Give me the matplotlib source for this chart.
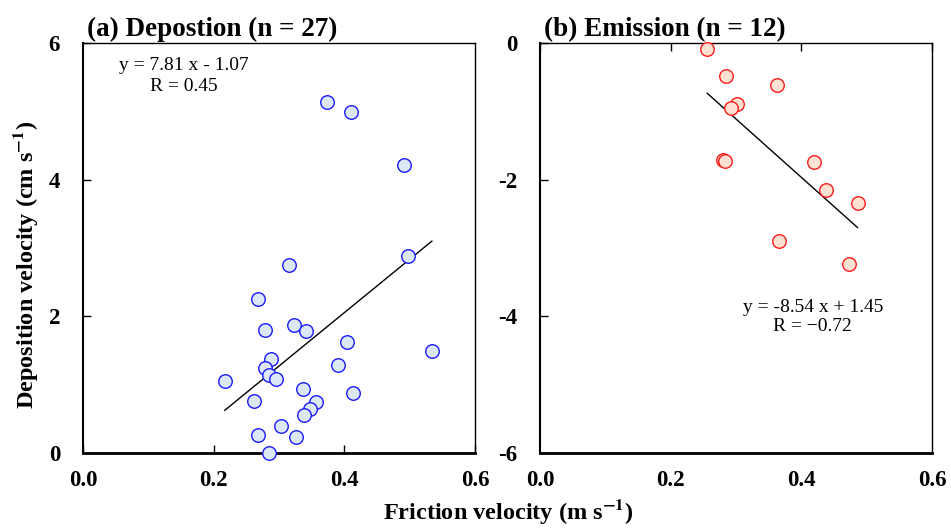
import numpy as np
import matplotlib.pyplot as plt

plt.rcParams['font.family'] = ['Liberation Serif', 'DejaVu Serif']
plt.rcParams['mathtext.fontset'] = 'stix'

# (a) deposition
dep_u = [0.373, 0.410, 0.492, 0.497, 0.316, 0.268, 0.323, 0.278, 0.341, 0.404,
         0.534, 0.288, 0.391, 0.279, 0.285, 0.296, 0.217, 0.337, 0.413, 0.262,
         0.357, 0.347, 0.339, 0.303, 0.268, 0.326, 0.284]
dep_v = [5.13, 4.99, 4.21, 2.89, 2.745, 2.25, 1.876, 1.80, 1.783, 1.627,
         1.495, 1.378, 1.285, 1.241, 1.14, 1.08, 1.05, 0.943, 0.879, 0.762,
         0.747, 0.645, 0.557, 0.391, 0.264, 0.234, 0.005]

# (b) emission
emi_u = [0.256, 0.284, 0.362, 0.301, 0.293, 0.280, 0.283, 0.420, 0.437, 0.486,
         0.366, 0.473]
emi_v = [-0.083, -0.479, -0.616, -0.899, -0.958, -1.705, -1.720, -1.744, -2.15,
         -2.335, -2.892, -3.23]

dep_fit = (7.81, -1.07)
emi_fit = (-8.54, 1.45)

fig = plt.figure(figsize=(9.51, 5.28), dpi=100)
ax1 = fig.add_axes([83/951, 1-453/528, 392/951, 410/528])
ax2 = fig.add_axes([540/951, 1-453/528, 392/951, 410/528])

ax1.scatter(dep_u, dep_v, s=95, facecolor='#dde8f7', edgecolor='#1a1aff', linewidth=1.0, zorder=3, clip_on=False)
xx = np.array([min(dep_u), max(dep_u)])
ax1.plot(xx, dep_fit[0]*xx + dep_fit[1], color='black', lw=1.0, zorder=2)

ax2.scatter(emi_u, emi_v, s=95, facecolor='#fde1d2', edgecolor='#ff1a1a', linewidth=1.0, zorder=3, clip_on=False)
xx = np.array([min(emi_u), max(emi_u)])
ax2.plot(xx, emi_fit[0]*xx + emi_fit[1], color='black', lw=1.0, zorder=2)

ax1.set_xlim(0, 0.6)
ax1.set_ylim(0, 6)
ax1.set_yticks([0, 2, 4, 6])
ax2.set_xlim(0, 0.6)
ax2.set_ylim(-6, 0)
ax2.set_yticks([0, -2, -4, -6])

for ax in (ax1, ax2):
    ax.set_xticks([0.0, 0.2, 0.4, 0.6])
    ax.set_xticklabels(['0.0', '0.2', '0.4', '0.6'])
    ax.tick_params(direction='in', length=6, width=1.0, labelsize=16.5)
    ax.tick_params(axis='x', pad=12)
    ax.tick_params(axis='y', pad=16.5)
    for lab in ax.get_xticklabels() + ax.get_yticklabels():
        lab.set_fontweight('bold')
    for sp in ax.spines.values():
        sp.set_linewidth(1.0)
    ax.spines['bottom'].set_linewidth(2.0)
    ax.spines['left'].set_linewidth(1.5)

ax2.tick_params(axis='x', top=True, bottom=False, labeltop=False, labelbottom=True)
ax2.set_yticklabels(['0', '-2', '-4', '-6'])
for lab in ax2.get_yticklabels():
    lab.set_fontweight('bold')

ax1.set_title('(a) Depostion (n = 27)', fontsize=19.5, fontweight='bold', loc='left', x=0.01, pad=5)
ax2.set_title('(b) Emission (n = 12)', fontsize=19.5, fontweight='bold', loc='left', x=0.01, pad=5)

ax1.text(0.258, 0.965, 'y = 7.81 x - 1.07\nR = 0.45', transform=ax1.transAxes,
         ha='center', va='top', fontsize=14, linespacing=1.25)
ax2.text(0.696, 0.375, 'y = -8.54 x + 1.45\nR = \u22120.72', transform=ax2.transAxes,
         ha='center', va='top', fontsize=14, linespacing=1.15)

fig.text(26/951, 1-265/528, 'Deposition velocity (cm s$^{\\mathbf{-1}}$)', fontsize=17.5,
         fontweight='bold', ha='center', va='center', rotation=90)
fig.text(508/951, 1-512/528, 'Friction velocity (m s$^{\\mathbf{-1}}$)', fontsize=17.5,
         fontweight='bold', ha='center', va='center')

fig.savefig('out.png', dpi=100)
